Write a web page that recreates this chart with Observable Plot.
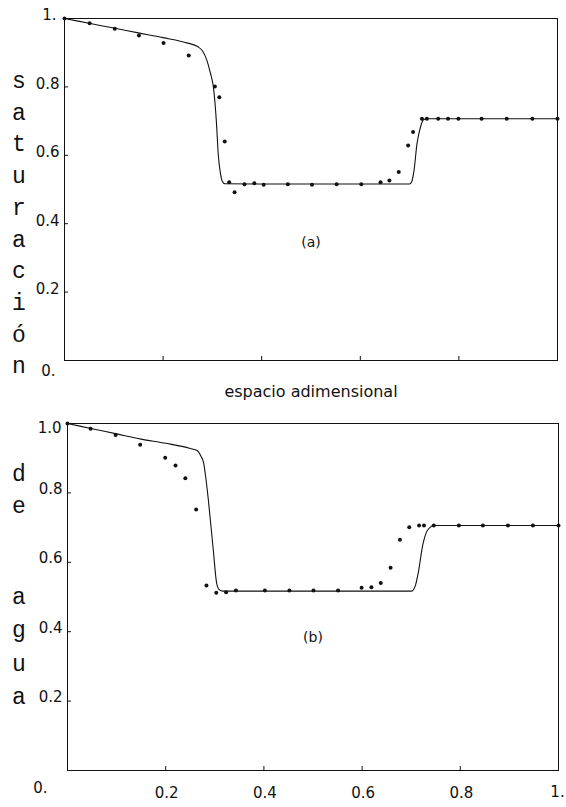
<!DOCTYPE html>
<html>
<head>
<meta charset="utf-8">
<script src="https://cdn.jsdelivr.net/npm/d3@7"></script>
<script src="https://cdn.jsdelivr.net/npm/@observablehq/plot@0.6"></script>
<style>
  html, body { margin: 0; padding: 0; background: #fff; }
  #wrap { position: relative; width: 566px; height: 807px; overflow: hidden; font-family: "DejaVu Sans", sans-serif; }
  .abs { position: absolute; transform: translate(-50%, -50%); line-height: 1; white-space: nowrap; color: #111; }
  .vl { font-family: "Liberation Mono", monospace; font-size: 23px; }
  svg { position: absolute; left: 0; }
</style>
</head>
<body>
<div id="wrap"></div>
<script>
// ---------- data ----------
const lineAx = [0, 0.05, 0.10, 0.15, 0.20, 0.25, 0.27, 0.28, 0.289, 0.296, 0.302, 0.308, 0.312, 0.316, 0.320, 0.325, 0.40, 0.55, 0.70, 0.704, 0.709, 0.715, 0.722, 0.728, 0.735, 0.85, 1.0];
const lineAy = [1, 0.986, 0.972, 0.958, 0.944, 0.928, 0.918, 0.905, 0.877, 0.84, 0.80, 0.70, 0.60, 0.55, 0.524, 0.517, 0.516, 0.516, 0.516, 0.522, 0.556, 0.634, 0.682, 0.704, 0.707, 0.707, 0.707];
const dotsAx = [0, 0.051, 0.102, 0.151, 0.201, 0.252, 0.305, 0.314, 0.325, 0.334, 0.345, 0.365, 0.385, 0.404, 0.453, 0.502, 0.552, 0.602, 0.641, 0.659, 0.678, 0.697, 0.707, 0.725, 0.735, 0.758, 0.778, 0.799, 0.846, 0.897, 0.949, 1.0];
const dotsAy = [1, 0.986, 0.970, 0.950, 0.928, 0.892, 0.801, 0.770, 0.640, 0.521, 0.492, 0.515, 0.518, 0.514, 0.515, 0.514, 0.515, 0.515, 0.521, 0.526, 0.551, 0.629, 0.668, 0.707, 0.707, 0.707, 0.707, 0.707, 0.707, 0.707, 0.707, 0.707];

const lineBx = [0, 0.05, 0.10, 0.15, 0.20, 0.25, 0.264, 0.272, 0.277, 0.282, 0.287, 0.297, 0.304, 0.310, 0.316, 0.50, 0.70, 0.704, 0.709, 0.714, 0.724, 0.731, 0.738, 0.745, 1.0];
const lineBy = [1, 0.985, 0.970, 0.955, 0.943, 0.928, 0.922, 0.905, 0.888, 0.84, 0.778, 0.634, 0.538, 0.520, 0.517, 0.517, 0.517, 0.520, 0.535, 0.567, 0.653, 0.687, 0.700, 0.706, 0.706];
const dotsBx = [0, 0.047, 0.098, 0.148, 0.199, 0.220, 0.240, 0.262, 0.283, 0.303, 0.323, 0.343, 0.402, 0.452, 0.501, 0.551, 0.599, 0.619, 0.638, 0.658, 0.677, 0.696, 0.716, 0.726, 0.746, 0.797, 0.846, 0.897, 0.948, 1.0];
const dotsBy = [1, 0.985, 0.967, 0.939, 0.901, 0.879, 0.842, 0.752, 0.533, 0.512, 0.514, 0.519, 0.519, 0.519, 0.519, 0.519, 0.527, 0.528, 0.540, 0.584, 0.665, 0.701, 0.706, 0.706, 0.706, 0.706, 0.706, 0.706, 0.706, 0.706];

const yTicks = [0.2, 0.4, 0.6, 0.8];
const yTickLabels = ["0.2", "0.4", "0.6", "0.8"];
const yZeroLabel = "0.";
const yTopLabelA = "1.";
const yTopLabelB = "1.0";
const xTicks = [0.2, 0.4, 0.6, 0.8];
const xTickLabelsB = ["0.2", "0.4", "0.6", "0.8"];
const xEndLabelB = "1.";

const yLetters1 = ["s", "a", "t", "u", "r", "a", "c", "i", "ó", "n"];
const yLetters2 = ["d", "e"];
const yLetters3 = ["a", "g", "u", "a"];
const xTitle = "espacio adimensional";
const panelA = "(a)";
const panelB = "(b)";

// ---------- helpers ----------
const zip = (xs, ys) => xs.map((x, i) => ({x, y: ys[i]}));
const FS = 15;

function panel(o) {
  const ticksY = yTicks.map((v, i) => ({v, t: yTickLabels[i]}));
  const marks = [
    Plot.frame({stroke: "#111", strokeWidth: 1}),
    Plot.line(zip(o.lx, o.ly), {x: "x", y: "y", stroke: "#111", strokeWidth: 1.1, curve: "monotone-x"}),
    Plot.dot(zip(o.px, o.py), {x: "x", y: "y", r: 2, fill: "#111", stroke: "none"}),
    Plot.axisY(yTicks, {tickSize: -4, tickFormat: () => "", stroke: "#111", label: null}),
    Plot.axisX(xTicks, {tickSize: -4, tickFormat: () => "", stroke: "#111", label: null}),
    Plot.text(ticksY, {x: () => 0, y: "v", text: "t", textAnchor: "end", dx: o.midDx, dy: o.midDy, fontSize: FS, fill: "#111"}),
    Plot.text([yZeroLabel], {x: () => 0, y: () => 0, text: d => d, textAnchor: "end", dx: o.zeroDx, dy: o.zeroDy, fontSize: FS, fill: "#111"}),
    Plot.text([o.topLabel], {x: () => 0, y: () => 1, text: d => d, textAnchor: "end", dx: o.topDx, dy: o.topDy, fontSize: FS, fill: "#111"})
  ];
  if (o.xLabels) {
    marks.push(Plot.text(xTicks.map((v, i) => ({v, t: xTickLabelsB[i]})), {x: "v", y: () => 0, text: "t", dy: 23, dx: 1, fontSize: FS, fill: "#111"}));
    marks.push(Plot.text([xEndLabelB], {x: () => 1, y: () => 0, text: d => d, dy: 22, dx: -1, fontSize: FS, fill: "#111"}));
  }
  const svg = Plot.plot({
    width: 566, height: o.height,
    marginTop: o.mt, marginBottom: o.mb, marginLeft: o.ml, marginRight: o.mr,
    x: {type: "linear", domain: [0, 1], axis: null},
    y: {type: "linear", domain: [0, 1], axis: null},
    style: {fontFamily: "DejaVu Sans, sans-serif", background: "transparent", overflow: "visible"},
    marks
  });
  svg.style.top = o.top + "px";
  return svg;
}

const wrap = document.getElementById("wrap");

wrap.appendChild(panel({
  lx: lineAx, ly: lineAy, px: dotsAx, py: dotsAy, topLabel: yTopLabelA,
  top: 0, height: 380, mt: 18, mb: 20, ml: 64, mr: 9,
  xLabels: false, zeroDx: -9, zeroDy: 11, topDx: -8, topDy: -3, midDy: -3, midDx: -5
}));
wrap.appendChild(panel({
  lx: lineBx, ly: lineBy, px: dotsBx, py: dotsBy, topLabel: yTopLabelB,
  top: 400, height: 407, mt: 23, mb: 37, ml: 67, mr: 8,
  xLabels: true, zeroDx: -20, zeroDy: 18, topDx: -6, topDy: 5, midDy: -4, midDx: -5
}));

function addText(txt, x, y, cls, style) {
  const d = document.createElement("div");
  d.className = "abs " + (cls || "");
  d.textContent = txt;
  d.style.left = x + "px";
  d.style.top = y + "px";
  Object.assign(d.style, style || {});
  wrap.appendChild(d);
}

yLetters1.forEach((c, i) => addText(c, 19, 82 + i * 31.7, "vl"));
yLetters2.forEach((c, i) => addText(c, 19, 475 + i * 32, "vl"));
yLetters3.forEach((c, i) => addText(c, 19, 598 + i * 33.3, "vl"));

addText(xTitle, 311, 392, "", {fontSize: "16px"});
addText(panelA, 311, 242, "", {fontSize: "14px"});
addText(panelB, 313, 637, "", {fontSize: "14px"});
</script>
</body>
</html>
